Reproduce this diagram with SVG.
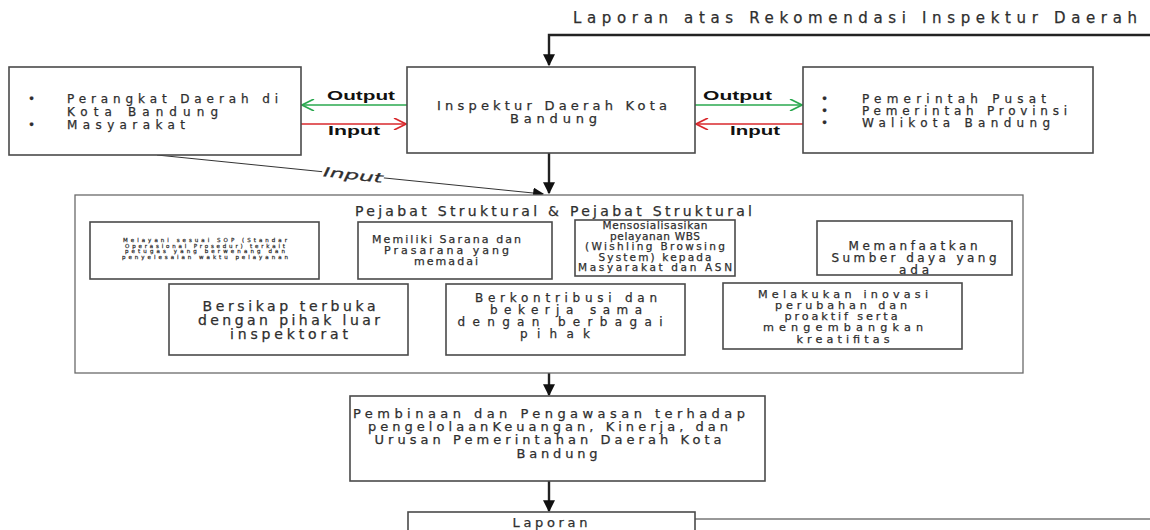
<svg xmlns="http://www.w3.org/2000/svg" width="1150" height="530" viewBox="0 0 1150 530">
<defs>
<style>
.box{fill:#fff;stroke:#4a4a4a;stroke-width:1.6}
.big{fill:#fff;stroke:#6a6a6a;stroke-width:1.3}
.t{font-family:"DejaVu Sans",sans-serif;fill:#2e2e2e;stroke:#2e2e2e;stroke-width:0.25;dominant-baseline:central}
.c{text-anchor:middle}
.lbl{font-family:"Liberation Sans",sans-serif;font-weight:bold;fill:#111;font-size:13px;dominant-baseline:central}
.conn{stroke:#222;stroke-width:2.4;fill:none}
.thin{stroke:#333;stroke-width:1;fill:none}
.g{stroke:#2aa84f;stroke-width:1.6;fill:none}
.r{stroke:#d8282c;stroke-width:1.6;fill:none}
</style>
<marker id="ah" viewBox="0 0 10 10" refX="9" refY="5" markerWidth="5" markerHeight="5" markerUnits="strokeWidth" orient="auto"><path d="M0,0 L10,5 L0,10 z" fill="#111"/></marker>
<marker id="ahs" viewBox="0 0 10 10" refX="9" refY="5" markerWidth="11" markerHeight="11" markerUnits="userSpaceOnUse" orient="auto"><path d="M0,0 L10,5 L0,10 z" fill="#111"/></marker>
<marker id="ag" viewBox="0 0 10 10" refX="10" refY="5" markerWidth="14" markerHeight="12" markerUnits="userSpaceOnUse" orient="auto"><path d="M0,0 L10,5 L0,10" fill="none" stroke="#2aa84f" stroke-width="1.4"/></marker>
<marker id="ar" viewBox="0 0 10 10" refX="10" refY="5" markerWidth="14" markerHeight="12" markerUnits="userSpaceOnUse" orient="auto"><path d="M0,0 L10,5 L0,10" fill="none" stroke="#d8282c" stroke-width="1.4"/></marker>
</defs>
<rect width="1150" height="530" fill="#fff"/>

<text class="t" x="573" y="18" font-size="15" textLength="564" lengthAdjust="spacing">Laporan atas Rekomendasi Inspektur Daerah</text>

<g id="connectors">
<path class="conn" d="M1150,35 H549 V65" marker-end="url(#ah)"/>
<line class="g" x1="407" y1="105" x2="302" y2="105" marker-end="url(#ag)"/>
<line class="r" x1="301" y1="124" x2="406" y2="124" marker-end="url(#ar)"/>
<line class="g" x1="695" y1="105" x2="802" y2="105" marker-end="url(#ag)"/>
<line class="r" x1="803" y1="124" x2="696" y2="124" marker-end="url(#ar)"/>
<path class="conn" d="M549,153 V193" marker-end="url(#ah)"/>
<line class="thin" x1="157" y1="155" x2="543" y2="194" marker-end="url(#ahs)"/>
<path class="conn" d="M549,373 V395" marker-end="url(#ah)"/>
<path class="conn" d="M549,481 V511" marker-end="url(#ah)"/>
<line class="thin" x1="695" y1="519" x2="1150" y2="519"/>
<text class="lbl" x="327" y="95" textLength="68" lengthAdjust="spacingAndGlyphs">Output</text>
<text class="lbl" x="328" y="130" textLength="52" lengthAdjust="spacingAndGlyphs">Input</text>
<text class="lbl" x="703" y="95" textLength="69" lengthAdjust="spacingAndGlyphs">Output</text>
<text class="lbl" x="730" y="130" textLength="50" lengthAdjust="spacingAndGlyphs">Input</text>
<g transform="rotate(6 353 175)">
<rect x="322" y="168" width="62" height="13" fill="#fff"/>
<text class="t" x="323" y="175" font-size="13" font-style="italic" textLength="60" lengthAdjust="spacingAndGlyphs">Input</text>
</g>
</g>

<g id="node-perangkat">
<rect class="box" x="9" y="67" width="292" height="88"/>
<text class="t" x="28" y="99" font-size="12">•</text>
<text class="t" x="28" y="125" font-size="12">•</text>
<text class="t" x="67" y="99" font-size="12" textLength="211" lengthAdjust="spacing">Perangkat Daerah di</text>
<text class="t" x="67" y="112" font-size="12" textLength="151" lengthAdjust="spacing">Kota Bandung</text>
<text class="t" x="67" y="125" font-size="12" textLength="118" lengthAdjust="spacing">Masyarakat</text>
</g>

<g id="node-inspektur">
<rect class="box" x="407" y="67" width="288" height="86"/>
<text class="t" x="437" y="105" font-size="13" textLength="230" lengthAdjust="spacing">Inspektur Daerah Kota</text>
<text class="t" x="510" y="118" font-size="13" textLength="87" lengthAdjust="spacing">Bandung</text>
</g>

<g id="node-pemerintah">
<rect class="box" x="803" y="67" width="290" height="86"/>
<text class="t" x="821" y="99" font-size="12">•</text>
<text class="t" x="821" y="111" font-size="12">•</text>
<text class="t" x="821" y="123" font-size="12">•</text>
<text class="t" x="862" y="99" font-size="12" textLength="184" lengthAdjust="spacing">Pemerintah Pusat</text>
<text class="t" x="862" y="111" font-size="12" textLength="205" lengthAdjust="spacing">Pemerintah Provinsi</text>
<text class="t" x="862" y="123" font-size="12" textLength="188" lengthAdjust="spacing">Walikota Bandung</text>
</g>

<g id="node-pejabat">
<rect class="big" x="75" y="195" width="948" height="178"/>
<text class="t" x="355" y="211" font-size="14" textLength="397" lengthAdjust="spacing">Pejabat Struktural &amp; Pejabat Struktural</text>
</g>

<g id="node-melayani">
<rect class="box" x="90" y="222" width="229" height="57"/>
<text class="t c" x="205" y="240" font-size="5.5" stroke-width="0.1" textLength="164" lengthAdjust="spacing">Melayani sesuai SOP (Standar</text>
<text class="t c" x="205" y="245.5" font-size="5.5" stroke-width="0.1" textLength="160" lengthAdjust="spacing">Operasional Prosedur) terkait</text>
<text class="t c" x="205" y="251" font-size="5.5" stroke-width="0.1" textLength="160" lengthAdjust="spacing">petugas yang berwenang dan</text>
<text class="t c" x="205" y="256.5" font-size="5.5" stroke-width="0.1" textLength="166" lengthAdjust="spacing">penyelesaian waktu pelayanan</text>
</g>

<g id="node-sarana">
<rect class="box" x="358" y="222" width="194" height="57"/>
<text class="t" x="372" y="239" font-size="11" textLength="149" lengthAdjust="spacing">Memiliki Sarana dan</text>
<text class="t" x="384" y="250" font-size="11" textLength="125" lengthAdjust="spacing">Prasarana yang</text>
<text class="t" x="414" y="261" font-size="11" textLength="64" lengthAdjust="spacing">memadai</text>
</g>

<g id="node-wbs">
<rect class="box" x="575" y="220" width="160" height="56"/>
<text class="t c" x="655" y="225" font-size="10.5" textLength="105" lengthAdjust="spacing">Mensosialisasikan</text>
<text class="t c" x="655" y="235.5" font-size="10.5" textLength="90" lengthAdjust="spacing">pelayanan WBS</text>
<text class="t c" x="655" y="246" font-size="10.5" textLength="140" lengthAdjust="spacing">(Wishling Browsing</text>
<text class="t c" x="655" y="256.5" font-size="10.5" textLength="113" lengthAdjust="spacing">System) kepada</text>
<text class="t c" x="655" y="267" font-size="10.5" textLength="154" lengthAdjust="spacing">Masyarakat dan ASN</text>
</g>

<g id="node-sumber">
<rect class="box" x="817" y="221" width="195" height="54"/>
<text class="t c" x="913" y="246" font-size="12" textLength="129" lengthAdjust="spacing">Memanfaatkan</text>
<text class="t c" x="914" y="258" font-size="12" textLength="165" lengthAdjust="spacing">Sumber daya yang</text>
<text class="t c" x="914" y="270" font-size="12" textLength="30" lengthAdjust="spacing">ada</text>
</g>

<g id="node-terbuka">
<rect class="box" x="169" y="284" width="239" height="71"/>
<text class="t c" x="289" y="306" font-size="14" textLength="173" lengthAdjust="spacing">Bersikap terbuka</text>
<text class="t c" x="289" y="320" font-size="14" textLength="182" lengthAdjust="spacing">dengan pihak luar</text>
<text class="t c" x="289" y="334" font-size="14" textLength="118" lengthAdjust="spacing">inspektorat</text>
</g>

<g id="node-kontribusi">
<rect class="box" x="446" y="284" width="239" height="71"/>
<text class="t c" x="566" y="298" font-size="12" textLength="182" lengthAdjust="spacing">Berkontribusi dan</text>
<text class="t c" x="566" y="310" font-size="12" textLength="152" lengthAdjust="spacing">bekerja sama</text>
<text class="t c" x="560" y="322" font-size="12" textLength="205" lengthAdjust="spacing">dengan berbagai</text>
<text class="t c" x="555" y="334" font-size="12" textLength="70" lengthAdjust="spacing">pihak</text>
</g>

<g id="node-inovasi">
<rect class="box" x="723" y="283" width="239" height="66"/>
<text class="t c" x="843" y="294" font-size="11.2" textLength="170" lengthAdjust="spacing">Melakukan inovasi</text>
<text class="t c" x="841" y="305.25" font-size="11.2" textLength="132" lengthAdjust="spacing">perubahan dan</text>
<text class="t c" x="841" y="316.5" font-size="11.2" textLength="113" lengthAdjust="spacing">proaktif serta</text>
<text class="t c" x="843" y="327.75" font-size="11.2" textLength="160" lengthAdjust="spacing">mengembangkan</text>
<text class="t c" x="843" y="339" font-size="11.2" textLength="93" lengthAdjust="spacing">kreatifitas</text>
</g>

<g id="node-pembinaan">
<rect class="box" x="350" y="396" width="415" height="85"/>
<text class="t c" x="549" y="413" font-size="13" textLength="392" lengthAdjust="spacing">Pembinaan dan Pengawasan terhadap</text>
<text class="t c" x="548" y="426" font-size="13" textLength="360" lengthAdjust="spacing">pengelolaanKeuangan, Kinerja, dan</text>
<text class="t c" x="548" y="439" font-size="13" textLength="347" lengthAdjust="spacing">Urusan Pemerintahan Daerah Kota</text>
<text class="t c" x="557" y="453" font-size="13" textLength="81" lengthAdjust="spacing">Bandung</text>
</g>

<g id="node-laporan">
<rect class="box" x="408" y="512" width="287" height="30"/>
<text class="t c" x="550" y="522" font-size="13" textLength="75" lengthAdjust="spacing">Laporan</text>
</g>
</svg>
